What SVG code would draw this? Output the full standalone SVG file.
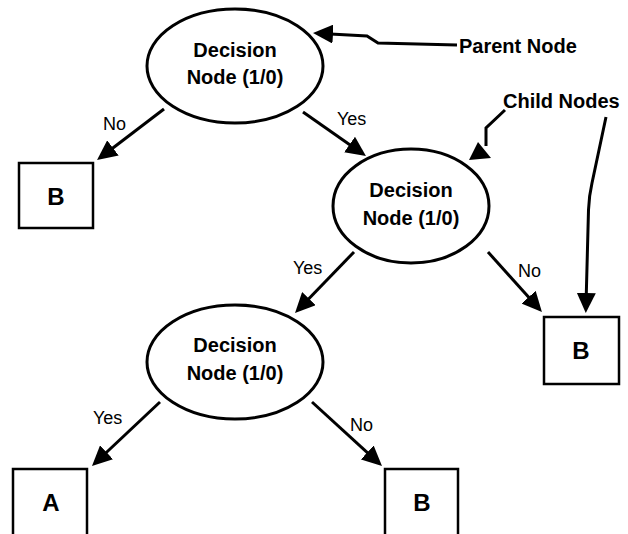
<svg xmlns="http://www.w3.org/2000/svg" width="628" height="534" viewBox="0 0 628 534">
<style>
.ell{fill:#fff;stroke:#000;stroke-width:3}
.box{fill:#fff;stroke:#000;stroke-width:2.5}
.bt{font-family:"Liberation Sans",Arial,sans-serif;font-weight:bold;font-size:20px;fill:#000;text-anchor:middle}
.lt{font-family:"Liberation Sans",Arial,sans-serif;font-weight:bold;font-size:24px;fill:#000;text-anchor:middle}
.ann{font-family:"Liberation Sans",Arial,sans-serif;font-weight:bold;font-size:20px;fill:#000}
.el{font-family:"Liberation Sans",Arial,sans-serif;font-size:18px;fill:#000}
.con{fill:none;stroke:#000;stroke-width:3;marker-end:url(#ah)}
</style>
<defs>
<marker id="ah" markerUnits="userSpaceOnUse" markerWidth="20" markerHeight="19" refX="12" refY="9.5" orient="auto">
<path d="M0,0 L20,9.5 L0,19 z" fill="#000"/>
</marker>
</defs>
<g id="connectors">
<line class="con" x1="164" y1="109" x2="103.4" y2="155.2"/>
<line class="con" x1="303" y1="112" x2="359.4" y2="151.4"/>
<line class="con" x1="354" y1="252" x2="300.6" y2="307.2"/>
<line class="con" x1="488" y1="252" x2="536.6" y2="306.1"/>
<line class="con" x1="160" y1="402" x2="97.8" y2="460.5"/>
<line class="con" x1="312" y1="402" x2="376.1" y2="460.6"/>
<polyline class="con" points="457,45 378,43 367,36 321,33.4"/>
<polyline fill="none" stroke="#000" stroke-width="3" points="505,110 486,128 486,146"/>
<polygon points="478,142 491,158 469,160" fill="#000"/>
<path class="con" d="M606,117 L592,183 Q589,196 588.5,210 L586,305"/>
<text class="el" x="103" y="130">No</text>
<text class="el" x="337" y="125">Yes</text>
<text class="el" x="293" y="274">Yes</text>
<text class="el" x="518" y="277">No</text>
<text class="el" x="93" y="424">Yes</text>
<text class="el" x="350" y="431">No</text>
</g>
<g id="node-decision-1">
<ellipse class="ell" cx="235" cy="66" rx="88" ry="57"/>
<text class="bt" x="235" y="57">Decision</text>
<text class="bt" x="235" y="84">Node (1/0)</text>
</g>
<g id="node-decision-2">
<ellipse class="ell" cx="411" cy="206" rx="78" ry="57"/>
<text class="bt" x="411" y="197">Decision</text>
<text class="bt" x="411" y="225">Node (1/0)</text>
</g>
<g id="node-decision-3">
<ellipse class="ell" cx="235" cy="362" rx="88" ry="57"/>
<text class="bt" x="235" y="352">Decision</text>
<text class="bt" x="235" y="380">Node (1/0)</text>
</g>
<g id="leaf-b-left">
<rect class="box" x="19" y="163" width="74" height="65"/>
<text class="lt" x="56" y="205">B</text>
</g>
<g id="leaf-b-right">
<rect class="box" x="544" y="317" width="75" height="67"/>
<text class="lt" x="581" y="359">B</text>
</g>
<g id="leaf-a">
<rect class="box" x="13" y="469" width="74" height="70"/>
<text class="lt" x="51" y="511">A</text>
</g>
<g id="leaf-b-bottom">
<rect class="box" x="385" y="469" width="73" height="70"/>
<text class="lt" x="422" y="511">B</text>
</g>
<g id="annotations">
<text class="ann" x="459" y="53">Parent Node</text>
<text class="ann" x="503" y="108">Child Nodes</text>
</g>
</svg>
